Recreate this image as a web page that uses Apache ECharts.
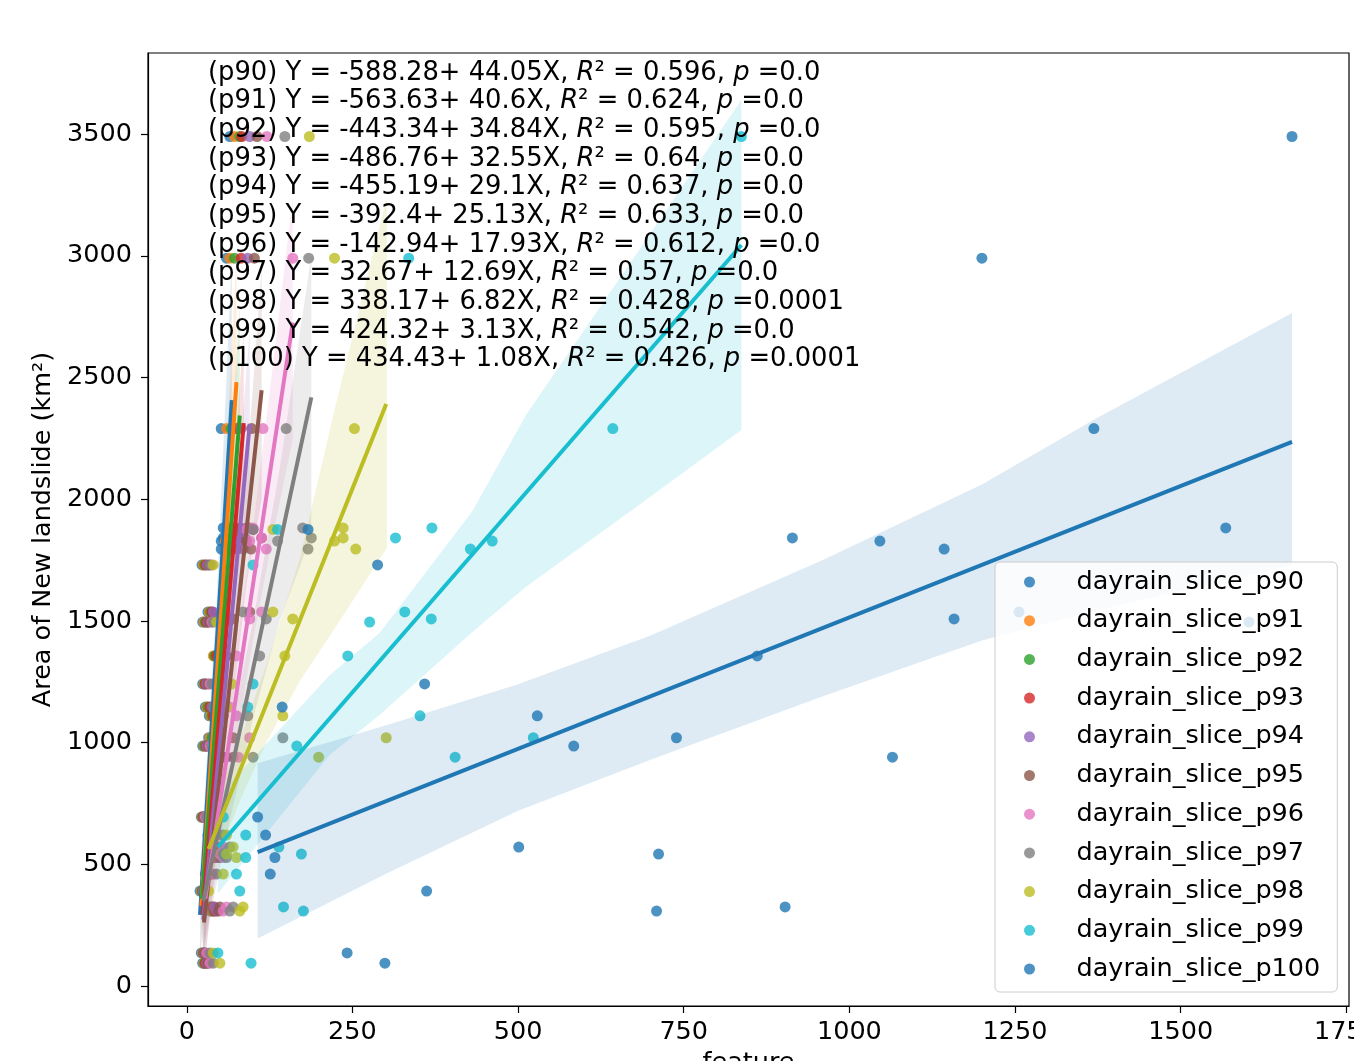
<!DOCTYPE html>
<html>
<head>
<meta charset="utf-8">
<script src="https://cdn.jsdelivr.net/npm/echarts@6/dist/echarts.min.js"></script>
<style>
html,body{margin:0;padding:0;background:#ffffff;overflow:hidden;}
#c{width:1354px;height:1061px;}
</style>
</head>
<body>
<div id="c"></div>
<script>
// ---------------- data ----------------
const seriesNames = ['dayrain_slice_p90','dayrain_slice_p91','dayrain_slice_p92','dayrain_slice_p93','dayrain_slice_p94','dayrain_slice_p95','dayrain_slice_p96','dayrain_slice_p97','dayrain_slice_p98','dayrain_slice_p99','dayrain_slice_p100'];
const seriesColors = ['#1f77b4','#ff7f0e','#2ca02c','#d62728','#9467bd','#8c564b','#e377c2','#7f7f7f','#bcbd22','#17becf','#1f77b4'];

// Area of new landslide (y), shared by every series
const area = [3490, 2990, 2290, 1882, 1876, 1841, 1828, 1795, 1730, 1537, 1508, 1495, 1356, 1241, 1146, 1110, 1020, 986, 940, 694, 620, 571, 542, 528, 460, 390, 325, 308, 136, 94];

// feature (x) values, one array per series, aligned with `area`
const xP90  = [65, 60, 52, 55, 68, 55, 52, 52, 23, 32, 40, 24, 42, 24, 28, 34, 33, 24, 44, 22, 32, 36, 34, 36, 28, 20, 34, 36, 22, 24];
const xP91  = [72, 65, 60, 62, 75, 60, 58, 60, 25, 34, 42, 26, 40, 26, 30, 36, 35, 26, 46, 23, 34, 38, 36, 38, 30, 22, 36, 38, 24, 26];
const xP92  = [80, 72, 67, 70, 75, 68, 65, 66, 27, 36, 45, 28, 42, 27, 32, 38, 38, 27, 50, 24, 36, 40, 38, 40, 31, 23, 38, 40, 25, 27];
const xP93  = [83, 82, 75, 80, 86, 78, 72, 75, 29, 38, 50, 30, 45, 28, 35, 40, 42, 29, 55, 25, 38, 42, 40, 42, 33, 24, 40, 42, 26, 28];
const xP94  = [95, 92, 82, 90, 85, 88, 80, 85, 31, 40, 60, 32, 50, 30, 38, 45, 50, 30, 60, 26, 40, 45, 42, 45, 35, 25, 42, 45, 27, 30];
const xP95  = [106, 102, 98, 95, 100, 113, 90, 97, 34, 95, 70, 34, 60, 33, 45, 55, 70, 33, 70, 27, 45, 50, 45, 50, 38, 26, 50, 48, 28, 32];
const xP96  = [121, 160, 115, 100, 90, 113, 95, 120, 38, 113, 95, 38, 75, 35, 65, 75, 95, 35, 78, 28, 50, 55, 50, 55, 40, 28, 60, 55, 30, 35];
const xP97  = [148, 184, 150, 175, 100, 188, 137, 183, 35, 85, 120, 40, 110, 38, 40, 92, 145, 38, 100, 30, 55, 65, 55, 60, 45, 25, 70, 65, 35, 40];
const xP98  = [185, 223, 253, 236, 130, 236, 223, 255, 40, 130, 160, 45, 148, 68, 60, 145, 301, 40, 199, 35, 60, 70, 60, 75, 55, 33, 85, 80, 40, 50];
const xP99  = [837, 335, 643, 370, 137, 315, 461, 428, 100, 329, 369, 276, 243, 100, 92, 352, 523, 166, 405, 55, 89, 139, 173, 89, 75, 80, 146, 176, 47, 97];
const xP100 = [1668, 1200, 1369, 1568, 183, 914, 1046, 1143, 288, 1256, 1158, 1603, 861, 359, 144, 529, 739, 584, 1065, 107, 119, 501, 712, 133, 126, 362, 903, 709, 242, 299];

// regression results printed on the chart
const eqLabels    = ['p90','p91','p92','p93','p94','p95','p96','p97','p98','p99','p100'];
const eqIntercept = [-588.28, -563.63, -443.34, -486.76, -455.19, -392.4, -142.94, 32.67, 338.17, 424.32, 434.43];
const eqSlope     = [44.05, 40.6, 34.84, 32.55, 29.1, 25.13, 17.93, 12.69, 6.82, 3.13, 1.08];
const eqR2        = ['0.596','0.624','0.595','0.64','0.637','0.633','0.612','0.57','0.428','0.542','0.426'];
const eqP         = ['0.0','0.0','0.0','0.0','0.0','0.0','0.0','0.0','0.0001','0.0','0.0001'];

// confidence bands: x positions, lower and upper y
const ciX = [
  [20, 45, 68],
  [22, 48, 75],
  [23, 50, 80],
  [24, 55, 86],
  [25, 60, 95],
  [26, 60, 90, 113],
  [28, 60, 100, 130, 160],
  [25, 60, 100, 140, 188],
  [33, 80, 120, 170, 226, 302],
  [47, 216, 291, 431, 512, 668, 837],
  [107, 300, 500, 700, 960, 1200, 1368, 1668]
];
const ciLow = [
  [100, 1200, 1900],
  [140, 1200, 2000],
  [170, 1120, 1950],
  [110, 1120, 1950],
  [90, 1110, 1950],
  [60, 930, 1650, 2000],
  [140, 760, 1420, 1850, 2250],
  [150, 620, 1100, 1500, 1850],
  [430, 760, 1000, 1250, 1480, 1800],
  [380, 950, 1113, 1454, 1640, 1947, 2284],
  [195, 460, 720, 930, 1190, 1420, 1540, 1730]
];
const ciHigh = [
  [480, 1580, 3000],
  [520, 1570, 3000],
  [540, 1480, 2800],
  [480, 1490, 2700],
  [460, 1470, 2700],
  [460, 1300, 2100, 2950],
  [570, 1110, 1880, 2550, 3240],
  [550, 970, 1500, 2120, 3000],
  [700, 1010, 1320, 1750, 2400, 3240],
  [780, 1278, 1450, 1950, 2346, 2965, 3640],
  [915, 1070, 1240, 1440, 1750, 2060, 2325, 2765]
];

const xTicks = [0, 250, 500, 750, 1000, 1250, 1500, 1750];
const yTicks = [0, 500, 1000, 1500, 2000, 2500, 3000, 3500];

// ---------------- chart ----------------
const FONT = 'DejaVu Sans';
const FS = 25.5;
const EQ_FS = 25.8;
const seriesX = [xP90, xP91, xP92, xP93, xP94, xP95, xP96, xP97, xP98, xP99, xP100];

function rgba(hex, a) {
  const n = parseInt(hex.slice(1), 16);
  return 'rgba(' + ((n >> 16) & 255) + ',' + ((n >> 8) & 255) + ',' + (n & 255) + ',' + a + ')';
}

const series = [];
seriesX.forEach(function (xs, i) {
  series.push({
    type: 'scatter',
    name: seriesNames[i],
    data: xs.map(function (x, k) { return [x, area[k]]; }),
    symbol: 'circle',
    symbolSize: 11,
    itemStyle: { color: seriesColors[i], opacity: 0.8 },
    z: 1 + 2 * i,
    silent: true
  });
  const bx = ciX[i], lo = ciLow[i], hi = ciHigh[i];
  series.push({
    type: 'custom',
    name: seriesNames[i] + ' ci',
    data: [[bx[0], lo[0]]],
    clip: true,
    silent: true,
    z: 2 + 2 * i,
    renderItem: function (params, api) {
      const pts = [];
      for (let k = 0; k < bx.length; k++) pts.push(api.coord([bx[k], hi[k]]));
      for (let k = bx.length - 1; k >= 0; k--) pts.push(api.coord([bx[k], lo[k]]));
      return { type: 'polygon', shape: { points: pts }, style: { fill: rgba(seriesColors[i], 0.15) } };
    }
  });
});
seriesX.forEach(function (xs, i) {
  const xmin = Math.min.apply(null, xs), xmax = Math.max.apply(null, xs);
  series.push({
    type: 'line',
    name: seriesNames[i] + ' fit',
    data: [[xmin, eqIntercept[i] + eqSlope[i] * xmin], [xmax, eqIntercept[i] + eqSlope[i] * xmax]],
    symbol: 'none',
    showSymbol: false,
    lineStyle: { color: seriesColors[i], width: 4 },
    z: 30,
    silent: true
  });
});

const eqTexts = eqLabels.map(function (l, i) {
  return '(' + l + ') Y = ' + eqIntercept[i] + '+ ' + eqSlope[i] + 'X, {it|R}\u00b2 = ' + eqR2[i] + ', {it|p} =' + eqP[i];
});

const axisText = { fontFamily: FONT, fontSize: FS, color: '#000' };

const option = {
  animation: false,
  backgroundColor: '#ffffff',
  grid: { left: 148, top: 53, width: 1201, height: 953, containLabel: false, outerBoundsMode: 'none', show: true, borderColor: '#000', borderWidth: 1.2, backgroundColor: 'transparent' },
  xAxis: {
    type: 'value', min: -58.5, max: 1754,
    axisLine: { show: true, onZero: false, lineStyle: { color: '#000', width: 1.2 } },
    axisTick: { show: true, inside: false, length: 7, customValues: xTicks, lineStyle: { color: '#000', width: 1.2 } },
    axisLabel: { show: true, customValues: xTicks, margin: 13, formatter: function (v) { return String(v); }, fontFamily: FONT, fontSize: FS, color: '#000' },
    splitLine: { show: false },
    name: 'feature', nameLocation: 'middle', nameGap: 44, nameTextStyle: axisText
  },
  yAxis: {
    type: 'value', min: -82, max: 3833,
    axisLine: { show: true, onZero: false, lineStyle: { color: '#000', width: 1.2 } },
    axisTick: { show: true, inside: false, length: 7, customValues: yTicks, lineStyle: { color: '#000', width: 1.2 } },
    axisLabel: { show: true, customValues: yTicks, margin: 16, formatter: function (v) { return String(v); }, fontFamily: FONT, fontSize: FS, color: '#000' },
    splitLine: { show: false },
    name: 'Area of New landslide (km\u00b2)', nameLocation: 'middle', nameGap: 92, nameRotate: 90, nameTextStyle: axisText
  },
  legend: {
    data: seriesNames,
    orient: 'vertical',
    left: 995, top: 562,
    padding: [5, 17, 8, 29],
    itemWidth: 14, itemHeight: 11, itemGap: 8.7,
    icon: 'circle',
    backgroundColor: 'rgba(255,255,255,0.8)',
    borderColor: '#cccccc', borderWidth: 1, borderRadius: 5,
    selectedMode: false,
    textStyle: { fontFamily: FONT, fontSize: FS, color: '#000', lineHeight: 30, padding: [0, 0, 0, 35] },
    z: 50
  },
  graphic: eqTexts.map(function (t, i) {
    return {
      type: 'text', x: 208, y: 73 + i * 28.65, z: 40, silent: true,
      style: {
        text: t, fontFamily: FONT, fontSize: EQ_FS, fill: '#000', verticalAlign: 'middle', align: 'left',
        rich: { it: { fontStyle: 'italic', fontFamily: FONT, fontSize: EQ_FS, fill: '#000' } }
      }
    };
  }),
  series: series
};

const chart = echarts.init(document.getElementById('c'), null, { renderer: 'canvas' });
chart.setOption(option);
</script>
</body>
</html>
